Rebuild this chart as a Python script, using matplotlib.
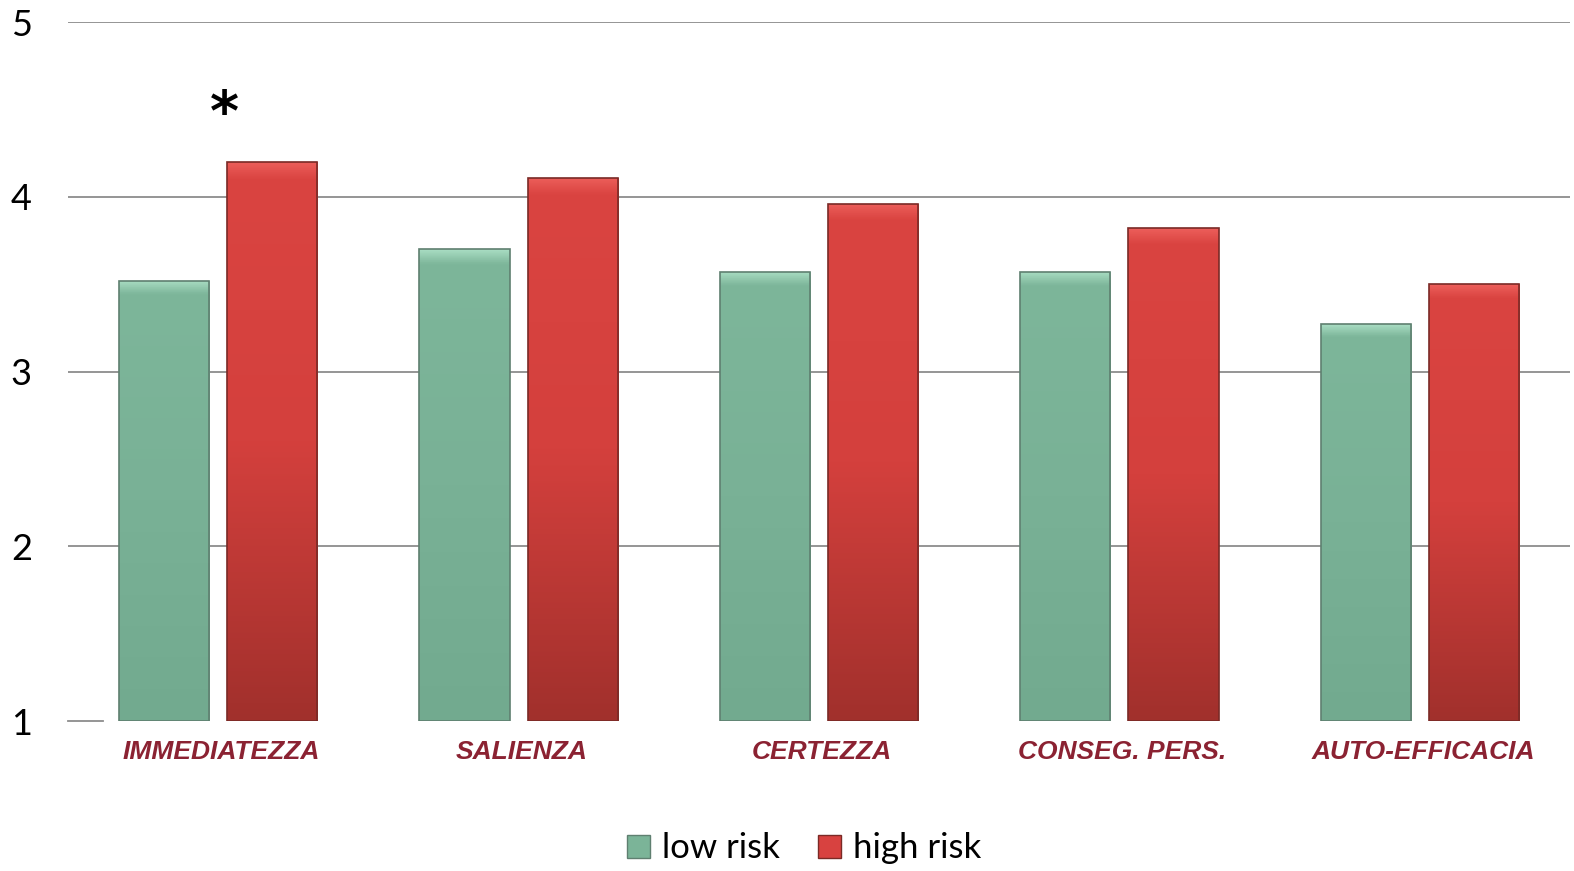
import matplotlib.pyplot as plt
import numpy as np
from matplotlib.patches import Patch
from matplotlib.colors import LinearSegmentedColormap

categories = ['IMMEDIATEZZA', 'SALIENZA', 'CERTEZZA', 'CONSEG. PERS.', 'AUTO-EFFICACIA']
low_risk = [3.52, 3.70, 3.57, 3.57, 3.27]
high_risk = [4.20, 4.11, 3.96, 3.82, 3.50]
yticks = [1, 2, 3, 4, 5]

fig = plt.figure(figsize=(15.74, 8.71), dpi=100)
ax = fig.add_axes([0.0432, 0.1722, 0.9543, 0.8025])

x = np.arange(len(categories))
w = 0.30
off = 0.18

green_cmap = LinearSegmentedColormap.from_list(
    'g', [(0, '#a8dcc2'), (0.03, '#7db69a'), (0.5, '#79b196'), (1, '#72aa8f')])
red_cmap = LinearSegmentedColormap.from_list(
    'r', [(0, '#ec5e5a'), (0.03, '#da4441'), (0.5, '#d4403d'), (1, '#a1302c')])

def grad_bars(xs, vals, cmap, edge):
    bars = ax.bar(xs, np.array(vals) - 1, w, bottom=1, color='none',
                  edgecolor=edge, linewidth=1.2, zorder=3)
    grad = np.linspace(0, 1, 256).reshape(-1, 1)
    for b in bars:
        bx, by = b.get_x(), b.get_y()
        bw, bh = b.get_width(), b.get_height()
        im = ax.imshow(grad, cmap=cmap, aspect='auto', zorder=2,
                       extent=[bx, bx + bw, by, by + bh], origin='upper')
        im.set_clip_path(b)
    return bars

grad_bars(x - off, low_risk, green_cmap, '#5f7f70')
grad_bars(x + off, high_risk, red_cmap, '#7a2a26')

ax.set_xlim(-0.5, 4.5)
ax.set_ylim(1, 5)
ax.set_yticks(yticks)
ax.set_yticklabels([str(t) for t in yticks], fontsize=26, family='Lato')
ax.tick_params(axis='y', length=0, pad=26)
ax.tick_params(axis='x', length=0, pad=14)
ax.set_xticks(x + 0.01)
ax.set_xticklabels(categories, fontsize=19, family='Liberation Sans',
                   fontweight='bold', fontstyle='italic', color='#8b2232')
for s in ax.spines.values():
    s.set_visible(False)
for t in yticks[1:]:
    ax.axhline(t, color='#8c8c8c', linewidth=1.3, zorder=1)
ax.plot([-0.5, -0.385], [1, 1], color='#8c8c8c', linewidth=1.3, zorder=1, clip_on=False)

ax.text(x[0] + 0.02, high_risk[0] + 0.27, '*', ha='center', va='center',
        fontsize=40, fontweight='bold', family='DejaVu Sans')

handles = [Patch(facecolor='#7bb498', edgecolor='#5f7f70'),
           Patch(facecolor='#d84240', edgecolor='#7a2a26')]
fig.legend(handles, ['low risk', 'high risk'], loc='center', bbox_to_anchor=(0.511, 0.026),
           ncol=2, frameon=False, prop={'family': 'Lato', 'size': 25},
           handlelength=0.65, handleheight=0.65, handletextpad=0.35, columnspacing=1.1)

fig.savefig('out.png', dpi=100)
